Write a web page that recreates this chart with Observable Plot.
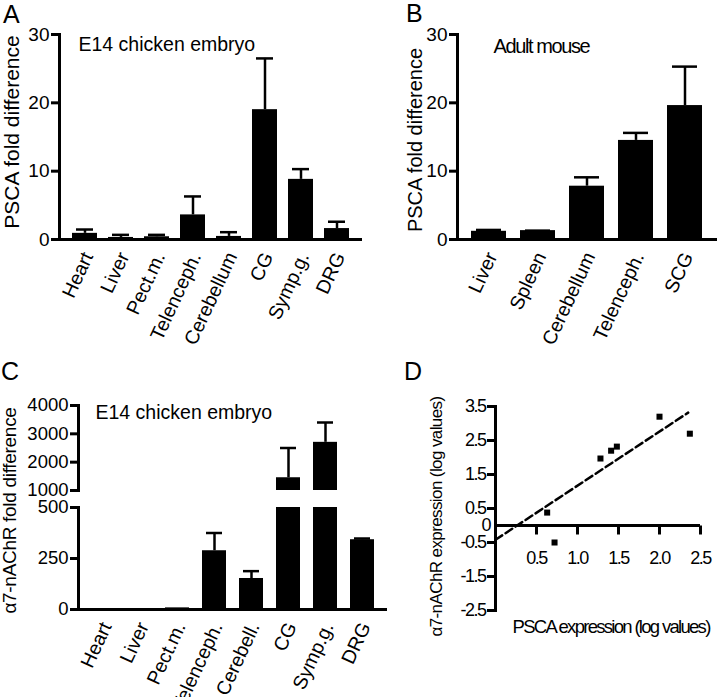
<!DOCTYPE html>
<html><head><meta charset="utf-8">
<script src="https://cdn.jsdelivr.net/npm/d3@7"></script>
<script src="https://cdn.jsdelivr.net/npm/@observablehq/plot@0.6"></script>
<style>
body{margin:0;background:#fff;}
#fig{position:relative;width:720px;height:697px;overflow:hidden;background:#fff;font-family:"Liberation Sans",Arial,Helvetica,sans-serif;color:#000;}
.letter{position:absolute;line-height:1;font-size:25px;}
</style></head><body><div id="fig"></div>
<script>
// ---------- Panel A: PSCA, E14 chicken embryo ----------
const aCategories = ["Heart","Liver","Pect.m.","Telenceph.","Cerebellum","CG","Symp.g.","DRG"];
const aMeans = [0.9, 0.3, 0.4, 3.6, 0.45, 19.0, 8.8, 1.6];
const aUpper = [1.46, 0.68, 0.68, 6.3, 1.07, 26.5, 10.3, 2.6];
const aTicks = [0, 10, 20, 30];
// ---------- Panel B: PSCA, adult mouse ----------
const bCategories = ["Liver","Spleen","Cerebellum","Telenceph.","SCG"];
const bMeans = [1.2, 1.3, 7.8, 14.5, 19.6];
const bUpper = [1.4, 1.3, 9.1, 15.6, 25.3];
const bTicks = [0, 10, 20, 30];
// ---------- Panel C: a7-nAChR, E14 chicken embryo (broken axis) ----------
const cCategories = ["Heart","Liver","Pect.m.","Telenceph.","Cerebell.","CG","Symp.g.","DRG"];
const cMeans = [1, 3, 8, 288, 152, 1450, 2700, 342];
const cUpper = [1, 3, 8, 375, 188, 2500, 3400, 348];
const cLowerTicks = [0, 250, 500];
const cUpperTicks = [1000, 2000, 3000, 4000];
// ---------- Panel D: correlation ----------
const dPscaLog = [0.63, 0.72, 1.28, 1.41, 1.48, 2.0, 2.37];
const dNachrLog = [0.38, -0.5, 1.97, 2.2, 2.32, 3.2, 2.7];
const dFitX = [0, 2.35];
const dFitY = [-0.42, 3.32];
const dXTicks = [0.5, 1.0, 1.5, 2.0, 2.5];
const dYTicks = [3.5, 2.5, 1.5, 0.5, -0.5, -1.5, -2.5];

const FONT = '"Liberation Sans", Arial, Helvetica, sans-serif';
const fig = document.getElementById("fig");
const baseStyle = {fontFamily: FONT, fontSize: "19px", background: "transparent", overflow: "visible", color: "black"};
function place(svg, left, top) {
  svg.style.position = "absolute";
  svg.style.left = left + "px";
  svg.style.top = top + "px";
  fig.appendChild(svg);
  return svg;
}
function spacing(svg, texts, ls) {
  const set = new Set(texts.map(String));
  d3.select(svg).selectAll("text").filter(function() { return set.has(this.textContent); }).style("letter-spacing", ls);
}
function letter(t, left, top) {
  const d = document.createElement("div");
  d.className = "letter"; d.textContent = t;
  d.style.left = left + "px"; d.style.top = top + "px";
  fig.appendChild(d);
}
const SW = 3;   // axis stroke
const EW = 2.5; // error bar stroke
const fmt = d => String(d);
const catAxis = () => Plot.axisX({tickSize: 0, tickRotate: -65, textAnchor: "end", lineAnchor: "middle", tickPadding: 14, dx: 3, fontSize: 19.5, label: null});

// ---------- A ----------
const aData = aCategories.map((c, i) => ({cat: c, mean: aMeans[i], hi: aUpper[i]}));
const A = Plot.plot({
  width: 362, height: 340, marginLeft: 59, marginRight: 0, marginTop: 34, marginBottom: 101,
  style: baseStyle,
  x: {domain: aCategories, padding: 0.3, label: null},
  y: {domain: [aTicks[0], aTicks[aTicks.length - 1]], label: null},
  marks: [
    Plot.barY(aData, {x: "cat", y: "mean", fill: "black"}),
    Plot.ruleX(aData, {x: "cat", y1: "mean", y2: "hi", strokeWidth: EW}),
    Plot.tickY(aData, {x: "cat", y: "hi", strokeWidth: EW, insetLeft: 4, insetRight: 4}),
    Plot.frame({anchor: "left", strokeWidth: SW}),
    Plot.ruleY([0], {strokeWidth: SW}),
    Plot.axisY({ticks: aTicks, tickFormat: fmt, tickSize: 8, tickPadding: 2, strokeWidth: SW, fontSize: 19, label: null}),
    catAxis(),
    Plot.text(["E14 chicken embryo"], {frameAnchor: "top-left", textAnchor: "start", lineAnchor: "middle", dx: 19, dy: 10, fontSize: 19.5}),
    Plot.text(["PSCA fold difference"], {frameAnchor: "left", textAnchor: "middle", lineAnchor: "middle", rotate: -90, dx: -47, dy: -5, fontSize: 21})
  ]
});
place(A, 0, 0);

// ---------- B ----------
const bData = bCategories.map((c, i) => ({cat: c, mean: bMeans[i], hi: bUpper[i]}));
const B = Plot.plot({
  width: 360, height: 340, marginLeft: 97, marginRight: 3, marginTop: 34, marginBottom: 101,
  style: baseStyle,
  x: {domain: bCategories, padding: 0.28, label: null},
  y: {domain: [bTicks[0], bTicks[bTicks.length - 1]], label: null},
  marks: [
    Plot.barY(bData, {x: "cat", y: "mean", fill: "black"}),
    Plot.ruleX(bData, {x: "cat", y1: "mean", y2: "hi", strokeWidth: EW}),
    Plot.tickY(bData, {x: "cat", y: "hi", strokeWidth: EW, insetLeft: 5, insetRight: 5}),
    Plot.frame({anchor: "left", strokeWidth: SW}),
    Plot.ruleY([0], {strokeWidth: SW}),
    Plot.axisY({ticks: bTicks, tickFormat: fmt, tickSize: 8, tickPadding: 2, strokeWidth: SW, fontSize: 19, label: null}),
    catAxis(),
    Plot.text(["Adult mouse"], {frameAnchor: "top-left", textAnchor: "start", lineAnchor: "middle", dx: 36, dy: 12, fontSize: 20}),
    Plot.text(["PSCA fold difference"], {frameAnchor: "left", textAnchor: "middle", lineAnchor: "middle", rotate: -90, dx: -42, dy: 3, fontSize: 20})
  ]
});
spacing(B, ["Adult mouse"], "-1.4px");
place(B, 360, 0);

// ---------- C (upper segment) ----------
const cData = cCategories.map((c, i) => ({cat: c, mean: cMeans[i], hi: cUpper[i]}));
const cBreakLow = cLowerTicks[cLowerTicks.length - 1];
const cBreakHigh = cUpperTicks[0];
const cTop = cData.filter(d => d.mean > cBreakHigh);
const C1 = Plot.plot({
  width: 390, height: 112, marginLeft: 78, marginRight: 3, marginTop: 25, marginBottom: 2,
  style: baseStyle,
  x: {domain: cCategories, padding: 0.35, label: null, axis: null},
  y: {domain: [cBreakHigh, cUpperTicks[cUpperTicks.length - 1]], label: null},
  marks: [
    Plot.barY(cTop, {x: "cat", y1: cBreakHigh, y2: "mean", fill: "black"}),
    Plot.ruleX(cTop, {x: "cat", y1: "mean", y2: "hi", strokeWidth: EW}),
    Plot.tickY(cTop, {x: "cat", y: "hi", strokeWidth: EW, insetLeft: 4, insetRight: 4}),
    Plot.frame({anchor: "left", strokeWidth: SW}),
    Plot.axisY({ticks: cUpperTicks, tickFormat: fmt, tickSize: 8, tickPadding: 2, strokeWidth: SW, fontSize: 18.5, label: null}),
    Plot.text(["E14 chicken embryo"], {frameAnchor: "top-left", textAnchor: "start", lineAnchor: "middle", dx: 17, dy: 7, fontSize: 19.5})
  ]
});
place(C1, 0, 380);

// ---------- C (lower segment) ----------
const cLow = cData.filter(d => d.hi <= cBreakLow);
const C2 = Plot.plot({
  width: 390, height: 202, marginLeft: 78, marginRight: 3, marginTop: 12, marginBottom: 88,
  style: baseStyle,
  x: {domain: cCategories, padding: 0.35, label: null},
  y: {domain: [cLowerTicks[0], cBreakLow], label: null},
  marks: [
    Plot.barY(cData, {x: "cat", y: "mean", fill: "black", clip: true}),
    Plot.ruleX(cLow, {x: "cat", y1: "mean", y2: "hi", strokeWidth: EW}),
    Plot.tickY(cLow.filter(d => d.hi > d.mean), {x: "cat", y: "hi", strokeWidth: EW, insetLeft: 4, insetRight: 4}),
    Plot.frame({anchor: "left", strokeWidth: SW}),
    Plot.ruleY([0], {strokeWidth: SW}),
    Plot.axisY({ticks: cLowerTicks, tickFormat: fmt, tickSize: 8, tickPadding: 2, strokeWidth: SW, fontSize: 18.5, label: null}),
    catAxis(),
    Plot.text(["\u03b17-nAChR fold difference"], {frameAnchor: "left", textAnchor: "middle", lineAnchor: "middle", rotate: -90, dx: -69, dy: -48, fontSize: 19})
  ]
});
spacing(C2, ["\u03b17-nAChR fold difference"], "-0.3px");
place(C2, 0, 495);

// ---------- D ----------
const dData = dPscaLog.map((x, i) => ({x, y: dNachrLog[i]}));
const dFit = dFitX.map((x, i) => ({x, y: dFitY[i]}));
const tickDown = {draw(context) { context.moveTo(0, 0); context.lineTo(0, 9); }};
const D = Plot.plot({
  width: 360, height: 357, marginLeft: 135, marginRight: 20, marginTop: 66, marginBottom: 87,
  style: baseStyle,
  x: {domain: [0, dXTicks[dXTicks.length - 1]], label: null, axis: null},
  y: {domain: [dYTicks[dYTicks.length - 1], dYTicks[0]], label: null},
  marks: [
    Plot.frame({anchor: "left", strokeWidth: SW}),
    Plot.ruleY([0], {strokeWidth: SW}),
    Plot.dot(dXTicks, {x: d => d, y: 0, symbol: tickDown, fill: "none", stroke: "black", strokeWidth: SW}),
    Plot.text(dXTicks, {x: d => d, y: 0, text: d => d.toFixed(1), dy: 33, fontSize: 18}),
    Plot.axisY({ticks: dYTicks, tickFormat: fmt, tickSize: 8, tickPadding: 2, strokeWidth: SW, fontSize: 18, label: null}),
    Plot.text([0], {x: 0, y: d => d, text: d => String(d), textAnchor: "end", dx: -4, fontSize: 18}),
    Plot.line(dFit, {x: "x", y: "y", strokeWidth: 2.5, strokeDasharray: "8,4"}),
    Plot.dot(dData, {x: "x", y: "y", symbol: "square", r: 3.4, fill: "black"}),
    Plot.text(["\u03b17-nAChR expression (log values)"], {frameAnchor: "left", textAnchor: "middle", lineAnchor: "middle", rotate: -90, dx: -59, dy: 8, fontSize: 17}),
    Plot.text(["PSCA expression (log values)"], {frameAnchor: "bottom-left", textAnchor: "start", lineAnchor: "middle", dx: 17, dy: 17, fontSize: 18.5})
  ]
});
spacing(D, dXTicks.map(d => d.toFixed(1)), "-1.5px");
spacing(D, dYTicks.map(String), "-1.5px");
spacing(D, ["\u03b17-nAChR expression (log values)"], "-0.6px");
spacing(D, ["PSCA expression (log values)"], "-1.7px");
place(D, 360, 340);

letter("A", 3, 2);
letter("B", 406, 1);
letter("C", 1, 359);
letter("D", 404, 359);
</script>
</body></html>
